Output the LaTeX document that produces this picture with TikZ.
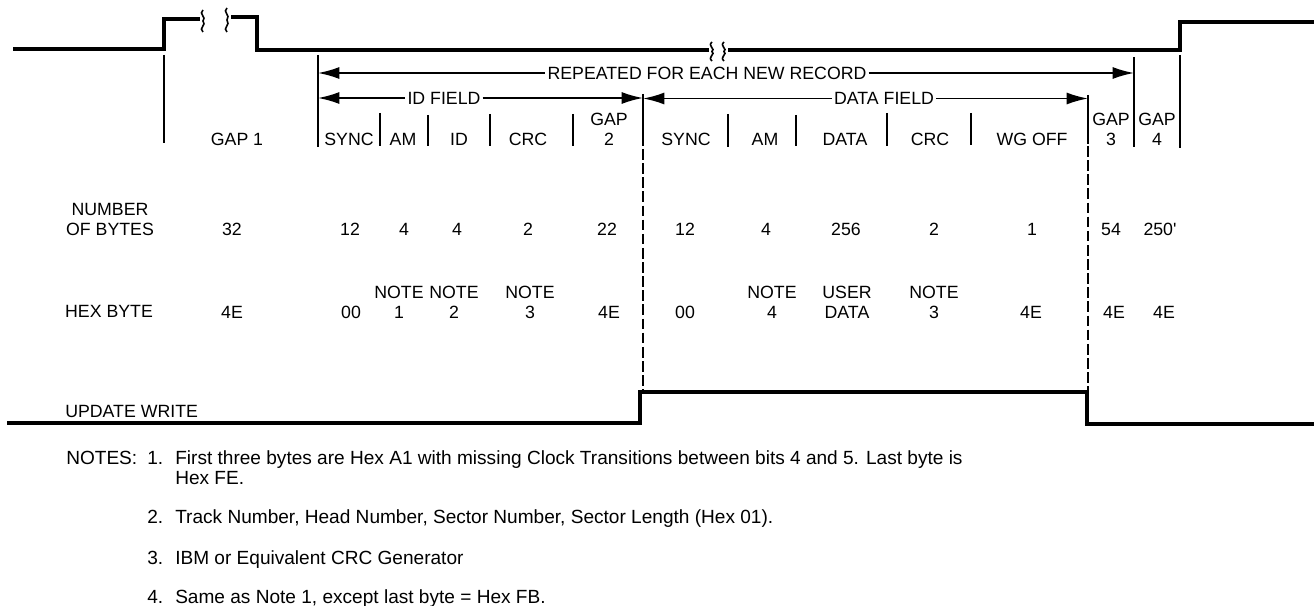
\documentclass[tikz,border=0pt]{standalone}
\usepackage{fontspec}
\setmainfont{Liberation Sans}
\usetikzlibrary{arrows.meta}
\tikzset{
 lbl/.style={inner sep=0pt,anchor=base,font=\fontsize{13.3}{15}\selectfont,align=center,text=black},
 dimlbl/.style={lbl,anchor=center,inner sep=1.5pt},
 noteln/.style={inner sep=0pt,anchor=base west,align=left,text=black,font=\fontsize{14.3}{15}\selectfont},
 sig/.style={line width=3pt,line cap=butt,line join=miter,black},
 tickln/.style={line width=1.25pt,black},
 dashln/.style={line width=1.25pt,dash pattern=on 8pt off 2.6pt,black},
 halfl/.style={line width=1.3pt,{Latex[length=16pt,width=9pt]}-},
 halfr/.style={line width=1.3pt,-{Latex[length=16pt,width=9pt]}},
 brk/.style={line width=1.2pt,black}
}
\newcommand{\brkmark}[3]{\draw[brk] (#1,#2) .. controls (#1-5,#2+4) and (#1+4,#2+7) .. (#1,{(#2+#3)/2}) .. controls (#1+4,#3-7) and (#1-5,#3-4) .. (#1,#3);}
\begin{document}
\begin{tikzpicture}[x=0.75pt,y=-0.75pt]
\useasboundingbox (0,0) rectangle (1314,606);
% top signal
\draw[sig] (13,48.7) -- (164,48.7) -- (164,19) -- (200,19);
\draw[sig] (231,17.5) -- (257,17.5) -- (257,50) -- (709,50);
\draw[sig] (728,50) -- (1180,50) -- (1180,22) -- (1314,22);
\brkmark{203}{10}{32}
\brkmark{227}{8}{32}
\brkmark{712}{42}{61}
\brkmark{724}{42}{61}
% ends of the dimension lines
\coordinate (a) at (318,73); \coordinate (d) at (1134,73);
\coordinate (aa) at (318,98); \coordinate (b) at (643,98);
\coordinate (bb) at (643,98.5); \coordinate (c) at (1088,98.5);
% verticals
\foreach \x/\t/\b in {164/55/143,318/55/147,380/113/146,428/115/146,490/114/146,573/114/146,728/114/147,796/115/146,887/113/146,971/113/145,1180/55/148,643/94/146,1088/95/144,1134/57/147}
  \draw[tickln] (\x,\t) -- (\x,\b);
\draw[dashln] (643,149) -- (643,390);
\draw[dashln] (1088,146) -- (1088,391);
% dimension lines
\node[dimlbl] (rep) at (707,73) {REPEATED FOR EACH NEW RECORD};
\node[dimlbl] (idf) at (444,98) {ID FIELD};
\node[dimlbl] (daf) at (884,98.5) {DATA FIELD};
\draw[halfl] (a) -- (rep);
\draw[halfr] (rep) -- (d);
\draw[halfl] (aa) -- (idf);
\draw[halfr] (idf) -- (b);
\draw[halfl] (bb) -- (daf);
\draw[halfr] (daf) -- (c);
% header row
\foreach \n/\x/\t in {h1/237/GAP 1,h2/349/SYNC,h3/403/AM,h4/459/ID,h5/528/CRC,h6/686/SYNC,h7/765/AM,h8/845/DATA,h9/930/CRC,h10/1032/WG OFF}
  \node[lbl] (\n) at (\x,146) {\t};
\node[lbl] (h11) at (609,146) {GAP\\2};
\node[lbl] (h12) at (1111,146) {GAP\\3};
\node[lbl] (h13) at (1157,146) {GAP\\4};
% bytes row
\node[lbl] (nb) at (110,235) {NUMBER\\OF BYTES};
\foreach \n/\x/\t in {b1/232/32,b2/350/12,b3/404/4,b4/457/4,b5/528/2,b6/607/22,b7/685/12,b8/766/4,b9/846/256,b10/934/2,b11/1032/1,b12/1111/54,b13/1160/250\textquotesingle}
  \node[lbl] (\n) at (\x,235.5) {\t};
% hex row
\node[lbl] (hx) at (109,317) {HEX BYTE};
\foreach \n/\x/\t in {x1/232/4E,x2/351/00,x6/609/4E,x7/685/00,x11/1031/4E,x12/1114/4E,x13/1164/4E}
  \node[lbl] (\n) at (\x,318) {\t};
\foreach \n/\x/\a/\c in {x3/399/NOTE/1,x4/454/NOTE/2,x5/530/NOTE/3,x8/772/NOTE/4,x9/847/USER/DATA,x10/934/NOTE/3}
  \node[lbl] (\n) at (\x,318) {\a\\\c};
% update write
\node[lbl,anchor=base west] (uw) at (65,417) {UPDATE WRITE};
\draw[sig] (7,422.5) -- (640,422.5) -- (640,392) -- (1087,392) -- (1087,424) -- (1314,424);
% notes
\node[noteln] (n0) at (66,464) {NOTES:};
\node[noteln] (n1a) at (147,464) {1.};
\node[noteln] (n1) at (175,484) {First three bytes are Hex A1 with missing Clock Transitions between bits 4 and 5. Last byte is\\Hex FE.};
\node[noteln] (n2a) at (147,523) {2.};
\node[noteln] (n2) at (175,523) {Track Number, Head Number, Sector Number, Sector Length (Hex 01).};
\node[noteln] (n3a) at (147,564) {3.};
\node[noteln] (n3) at (175,564) {IBM or Equivalent CRC Generator};
\node[noteln] (n4a) at (147,603) {4.};
\node[noteln] (n4) at (175,603) {Same as Note 1, except last byte\ =\ Hex FB.};
\end{tikzpicture}
\end{document}
